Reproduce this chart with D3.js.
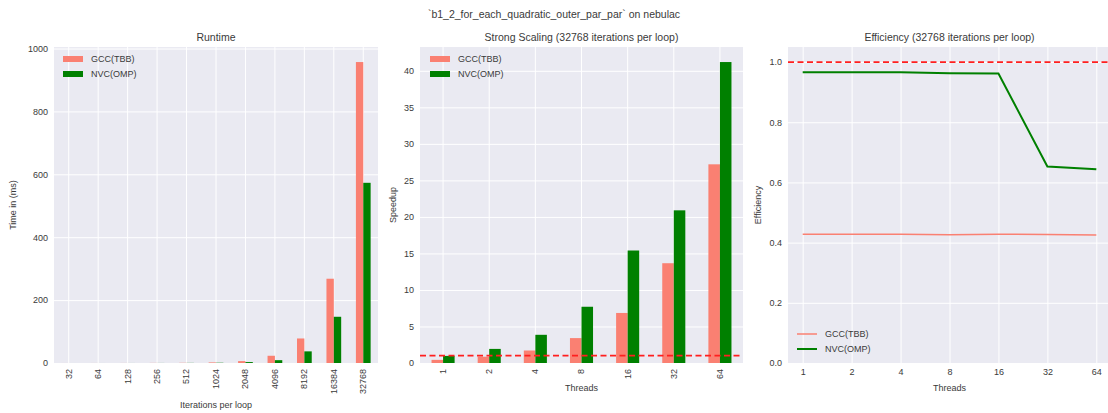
<!DOCTYPE html>
<html>
<head>
<meta charset="utf-8">
<script src="https://cdn.jsdelivr.net/npm/d3@7"></script>
<style>
  html, body { margin: 0; padding: 0; background: #ffffff; }
  svg { display: block; font-family: "Liberation Sans", Arial, sans-serif; }
</style>
</head>
<body>
<svg id="chart" width="1108" height="413"></svg>
<script>
// Benchmark results: b1_2_for_each_quadratic_outer_par_par on nebulac
const iterations = ["32", "64", "128", "256", "512", "1024", "2048", "4096", "8192", "16384", "32768"];
const runtimeGCC = [0.06, 0.1, 0.15, 0.3, 0.6, 1.8, 6, 23, 78, 268, 957];
const runtimeNVC = [0.02, 0.04, 0.08, 0.15, 0.35, 0.8, 3, 9, 37, 147, 573];

const threads = ["1", "2", "4", "8", "16", "32", "64"];
const speedupGCC = [0.43, 0.86, 1.71, 3.41, 6.85, 13.66, 27.2];
const speedupNVC = [0.97, 1.93, 3.86, 7.7, 15.4, 20.9, 41.2];
const efficiencyGCC = [0.428, 0.428, 0.428, 0.426, 0.428, 0.427, 0.425];
const efficiencyNVC = [0.966, 0.966, 0.966, 0.963, 0.962, 0.653, 0.644];

const runtimeTicks = [0, 200, 400, 600, 800, 1000];
const speedupTicks = [0, 5, 10, 15, 20, 25, 30, 35, 40];
const efficiencyTicks = [0, 0.2, 0.4, 0.6, 0.8, 1.0];

const seriesNames = ["GCC(TBB)", "NVC(OMP)"];
const colorGCC = "#fa8072";
const colorNVC = "#008000";

const svg = d3.select("#chart");
const textColor = "#3a3a3a";
const plotTop = 47, plotBottom = 363;

svg.append("text")
  .attr("x", 554).attr("y", 18)
  .attr("text-anchor", "middle")
  .attr("font-size", 10.5).attr("fill", textColor)
  .text("`b1_2_for_each_quadratic_outer_par_par` on nebulac");

function panelFrame(left, right, title) {
  const g = svg.append("g");
  g.append("rect")
    .attr("x", left).attr("y", plotTop)
    .attr("width", right - left).attr("height", plotBottom - plotTop)
    .attr("fill", "#eaeaf2");
  g.append("text")
    .attr("x", (left + right) / 2).attr("y", 41)
    .attr("text-anchor", "middle")
    .attr("font-size", 10.5).attr("fill", textColor)
    .text(title);
  return g;
}

function yAxis(g, y, left, right, ticks, fmt) {
  // grid
  g.append("g")
    .attr("transform", `translate(${left},0)`)
    .call(d3.axisLeft(y).tickValues(ticks).tickSize(-(right - left)).tickFormat(""))
    .call(a => a.select(".domain").remove())
    .call(a => a.selectAll("line").attr("stroke", "#ffffff").attr("stroke-width", 1));
  // labels
  g.append("g")
    .attr("transform", `translate(${left},0)`)
    .call(d3.axisLeft(y).tickValues(ticks).tickSize(0).tickPadding(6).tickFormat(fmt))
    .call(a => a.select(".domain").remove())
    .call(a => a.selectAll("text").attr("font-size", 9).attr("fill", textColor)
      .attr("font-family", "Liberation Sans, Arial, sans-serif"));
}

function xGrid(g, x) {
  g.append("g")
    .attr("transform", `translate(0,${plotBottom})`)
    .call(d3.axisBottom(x).tickSize(-(plotBottom - plotTop)).tickFormat(""))
    .call(a => a.select(".domain").remove())
    .call(a => a.selectAll("line").attr("stroke", "#ffffff").attr("stroke-width", 1));
}

function xLabels(g, x, rotate) {
  const ax = g.append("g")
    .attr("transform", `translate(0,${plotBottom})`)
    .call(d3.axisBottom(x).tickSize(0).tickPadding(6))
    .call(a => a.select(".domain").remove());
  ax.selectAll("text").attr("font-size", 9).attr("fill", textColor)
    .attr("font-family", "Liberation Sans, Arial, sans-serif");
  if (rotate) {
    ax.selectAll("text")
      .attr("transform", "rotate(-90)")
      .attr("text-anchor", "end")
      .attr("x", -6).attr("y", 0).attr("dy", "0.32em");
  }
}

function axisTitle(g, x, y, text, vertical) {
  const t = g.append("text")
    .attr("text-anchor", "middle")
    .attr("font-size", 9).attr("fill", textColor)
    .text(text);
  if (vertical) t.attr("transform", `translate(${x},${y}) rotate(-90)`);
  else t.attr("x", x).attr("y", y);
}

function patchLegend(g, x0, y0) {
  const colors = [colorGCC, colorNVC];
  seriesNames.forEach((name, i) => {
    const yy = y0 + i * 15;
    g.append("rect").attr("x", x0).attr("y", yy - 3).attr("width", 20).attr("height", 6)
      .attr("fill", colors[i]);
    g.append("text").attr("x", x0 + 28).attr("y", yy).attr("dy", "0.35em")
      .attr("font-size", 9).attr("fill", textColor).text(name);
  });
}

function lineLegend(g, x0, y0) {
  const colors = [colorGCC, colorNVC];
  const widths = [1.5, 2];
  seriesNames.forEach((name, i) => {
    const yy = y0 + i * 15;
    g.append("line").attr("x1", x0).attr("x2", x0 + 20).attr("y1", yy).attr("y2", yy)
      .attr("stroke", colors[i]).attr("stroke-width", widths[i]);
    g.append("text").attr("x", x0 + 28).attr("y", yy).attr("dy", "0.35em")
      .attr("font-size", 9).attr("fill", textColor).text(name);
  });
}

function groupedBars(g, x, y, cats, a, b) {
  const w = x.bandwidth() * 0.25;
  g.append("g").selectAll("rect").data(cats).join("rect")
    .attr("x", (d) => x(d) + x.bandwidth() / 2 - w)
    .attr("width", w)
    .attr("y", (d, i) => y(a[i]))
    .attr("height", (d, i) => y(0) - y(a[i]))
    .attr("fill", colorGCC);
  g.append("g").selectAll("rect").data(cats).join("rect")
    .attr("x", (d) => x(d) + x.bandwidth() / 2)
    .attr("width", w)
    .attr("y", (d, i) => y(b[i]))
    .attr("height", (d, i) => y(0) - y(b[i]))
    .attr("fill", colorNVC);
}

function idealLine(g, y, left, right) {
  g.append("line")
    .attr("x1", left).attr("x2", right)
    .attr("y1", y(1)).attr("y2", y(1))
    .attr("stroke", "#ff1f1f").attr("stroke-width", 1.8)
    .attr("stroke-dasharray", "6,3.5");
}

// Panel 1: runtime
{
  const L = 54, R = 378;
  const g = panelFrame(L, R, "Runtime");
  const x = d3.scaleBand().domain(iterations).range([L, R]).padding(0);
  const yMax = d3.max([...runtimeGCC, ...runtimeNVC]) * 1.05;
  const y = d3.scaleLinear().domain([0, yMax]).range([plotBottom, plotTop]);
  yAxis(g, y, L, R, runtimeTicks, d3.format("d"));
  xGrid(g, x);
  groupedBars(g, x, y, iterations, runtimeGCC, runtimeNVC);
  xLabels(g, x, true);
  axisTitle(g, 16, (plotTop + plotBottom) / 2, "Time in (ms)", true);
  axisTitle(g, (L + R) / 2, 408, "Iterations per loop", false);
  patchLegend(g, 63, 59);
}

// Panel 2: strong scaling speedup
{
  const L = 420, R = 743;
  const g = panelFrame(L, R, "Strong Scaling (32768 iterations per loop)");
  const x = d3.scaleBand().domain(threads).range([L, R]).padding(0);
  const yMax = d3.max([...speedupGCC, ...speedupNVC]) * 1.05;
  const y = d3.scaleLinear().domain([0, yMax]).range([plotBottom, plotTop]);
  yAxis(g, y, L, R, speedupTicks, d3.format("d"));
  xGrid(g, x);
  groupedBars(g, x, y, threads, speedupGCC, speedupNVC);
  idealLine(g, y, L, R);
  xLabels(g, x, true);
  axisTitle(g, 396, (plotTop + plotBottom) / 2, "Speedup", true);
  axisTitle(g, (L + R) / 2, 391, "Threads", false);
  patchLegend(g, 430, 59);
}

// Panel 3: efficiency
{
  const L = 788, R = 1111;
  const g = panelFrame(L, R, "Efficiency (32768 iterations per loop)");
  const x = d3.scalePoint().domain(threads).range([L, R]).padding(0.3);
  const y = d3.scaleLinear().domain([0, 1.05]).range([plotBottom, plotTop]);
  yAxis(g, y, L, R, efficiencyTicks, d3.format(".1f"));
  xGrid(g, x);
  const line = d3.line().x((d, i) => x(threads[i])).y((d) => y(d));
  g.append("path").attr("d", line(efficiencyGCC))
    .attr("fill", "none").attr("stroke", colorGCC).attr("stroke-width", 1.5);
  g.append("path").attr("d", line(efficiencyNVC))
    .attr("fill", "none").attr("stroke", colorNVC).attr("stroke-width", 2);
  idealLine(g, y, L, R);
  xLabels(g, x, false);
  axisTitle(g, 761, (plotTop + plotBottom) / 2, "Efficiency", true);
  axisTitle(g, (L + R) / 2, 391, "Threads", false);
  lineLegend(g, 797, 334);
}
</script>
</body>
</html>
